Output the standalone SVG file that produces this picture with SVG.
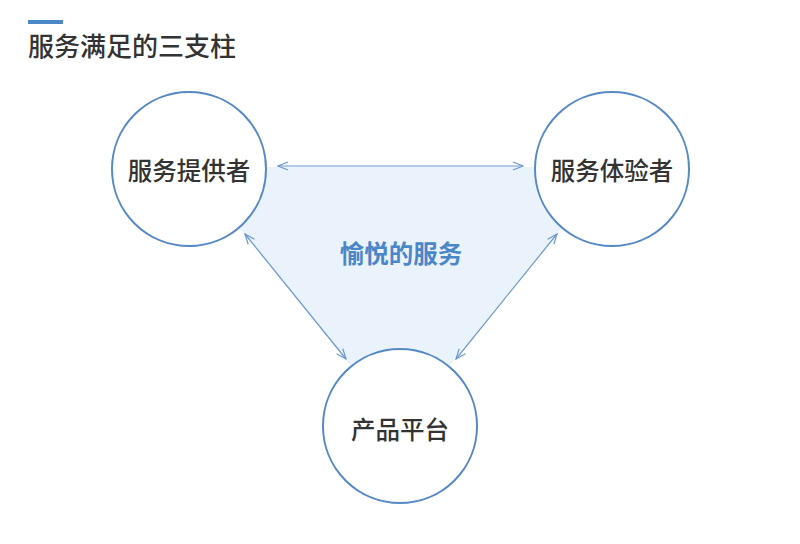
<svg xmlns="http://www.w3.org/2000/svg" width="800" height="544" viewBox="0 0 800 544">
<style>
text{font-family:"Noto Sans CJK SC","Noto Sans",sans-serif;}
.title{font-size:26px;fill:#333;font-weight:500;}
.node circle{fill:#fff;stroke:#5589c6;stroke-width:2;}
.node text{font-size:24.5px;fill:#333;font-weight:500;text-anchor:middle;dominant-baseline:central;}
.conn line{stroke:#6a98cf;stroke-width:1.2;fill:none;marker-start:url(#arr);marker-end:url(#arr);}
.center{font-size:24.5px;fill:#4a86c8;font-weight:700;text-anchor:middle;dominant-baseline:central;}
</style>
<defs>
<marker id="arr" viewBox="0 0 12 10" refX="11" refY="5" markerWidth="12" markerHeight="10" markerUnits="userSpaceOnUse" orient="auto-start-reverse">
<path d="M1,1 L11,5 L1,9" fill="none" stroke="#6a98cf" stroke-width="1.2"/>
</marker>
</defs>
<rect width="800" height="544" fill="#fff"/>
<rect x="28" y="20" width="35" height="4" fill="#4a86c8"/>
<text class="title" x="28" y="56">服务满足的三支柱</text>
<polygon points="189,167 612,167 400,426" fill="#eaf2fc"/>
<text class="center" x="401" y="252">愉悦的服务</text>
<g class="conn">
<line x1="278" y1="166" x2="523" y2="166"/>
<line x1="245" y1="234" x2="346" y2="359"/>
<line x1="557" y1="234" x2="456" y2="359"/>
</g>
<g id="provider" class="node"><circle cx="189" cy="169" r="77"/><text x="189" y="169">服务提供者</text></g>
<g id="experiencer" class="node"><circle cx="612" cy="169" r="77"/><text x="612" y="169">服务体验者</text></g>
<g id="platform" class="node"><circle cx="400" cy="426" r="77"/><text x="400" y="428">产品平台</text></g>
</svg>
